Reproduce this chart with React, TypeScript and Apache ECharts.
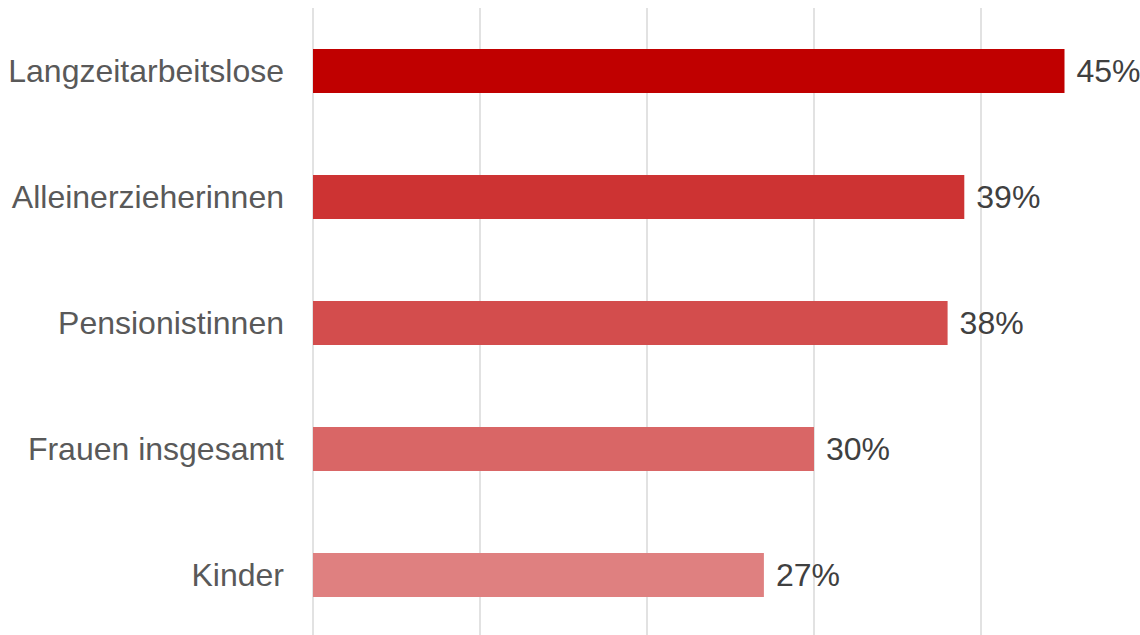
import React, { useEffect, useRef } from "react";
import * as echarts from "echarts";

const categories = [
  "Langzeitarbeitslose",
  "Alleinerzieherinnen",
  "Pensionistinnen",
  "Frauen insgesamt",
  "Kinder",
];
const values = [45, 39, 38, 30, 27];
const barColors = ["#C00000", "#CD3333", "#D34D4D", "#D96666", "#DF8080"];

const FONT = "'Liberation Sans', Arial, sans-serif";

export default function App() {
  const ref = useRef<HTMLDivElement>(null);
  useEffect(() => {
    if (!ref.current) return;
    const chart = echarts.init(ref.current, null, { renderer: "svg" });
    chart.setOption({
      animation: false,
      backgroundColor: "#ffffff",
      grid: { left: 313, right: 0, top: 8, bottom: 0, containLabel: false },
      xAxis: {
        type: "value",
        min: 0,
        max: 50,
        interval: 10,
        axisLabel: { show: false },
        axisLine: { show: false },
        axisTick: { show: false },
        splitLine: { show: true, lineStyle: { color: "#D9D9D9", width: 1.5 } },
      },
      yAxis: {
        type: "category",
        inverse: true,
        data: categories,
        axisLine: { show: false },
        axisTick: { show: false },
        splitLine: { show: false },
        axisLabel: {
          margin: 29,
          color: "#595959",
          fontSize: 32,
          fontFamily: FONT,
        },
      },
      series: [
        {
          type: "bar",
          barWidth: 44,
          data: values.map((v, i) => ({
            value: v,
            itemStyle: { color: barColors[i] },
          })),
          label: {
            show: true,
            position: "right",
            distance: 12,
            formatter: "{c}%",
            color: "#404040",
            fontSize: 32,
            fontFamily: FONT,
          },
        },
      ],
    });
    return () => chart.dispose();
  }, []);
  return (
    <div
      ref={ref}
      style={{ position: "fixed", left: 0, top: 0, width: 1148, height: 638, background: "#fff" }}
    />
  );
}
